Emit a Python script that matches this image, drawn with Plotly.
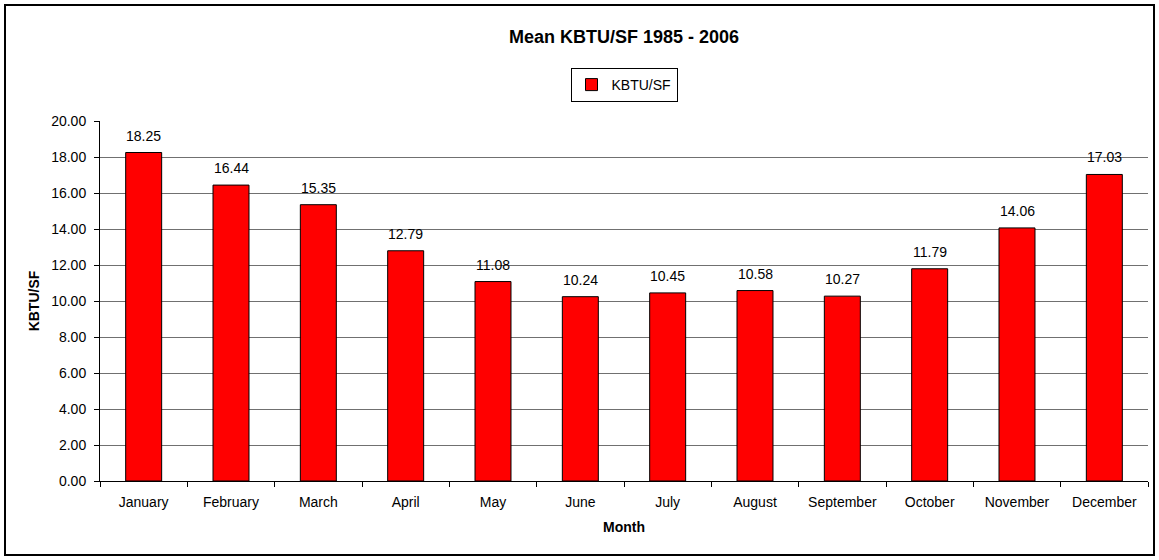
import plotly.graph_objects as go

months = ["January", "February", "March", "April", "May", "June", "July",
          "August", "September", "October", "November", "December"]
kbtu_sf = [18.25, 16.44, 15.35, 12.79, 11.08, 10.24, 10.45, 10.58, 10.27, 11.79, 14.06, 17.03]
y_ticks = [0, 2, 4, 6, 8, 10, 12, 14, 16, 18, 20]

W, H = 1159, 560
ML, MR, MT, MB = 100, 11, 121, 79
pw, ph = W - ML - MR, H - MT - MB
FONT = "Liberation Sans, Arial"

fig = go.Figure()
fig.add_trace(go.Bar(
    x=months, y=kbtu_sf, name="KBTU/SF",
    marker=dict(color="#FF0000", line=dict(color="black", width=1)),
    showlegend=True,
))

# value labels above bars
for m, v in zip(months, kbtu_sf):
    fig.add_annotation(x=m, y=v, xref="x", yref="y", text=f"{v:.2f}",
                       showarrow=False, yanchor="bottom", yshift=7,
                       font=dict(family=FONT, size=14, color="black"))

fig.update_layout(
    width=W, height=H,
    margin=dict(l=ML, r=MR, t=MT, b=MB),
    paper_bgcolor="white", plot_bgcolor="white",
    font=dict(family=FONT, size=14, color="black"),
    title=dict(text="<b>Mean KBTU/SF 1985 - 2006</b>", x=(ML + pw / 2) / W, xanchor="center",
               y=1 - 37 / H, yanchor="middle", font=dict(size=18)),
    bargap=0.588,
    showlegend=True,
    legend=dict(x=0.5, xanchor="center", y=(481 - 68) / ph, yanchor="top",
                bordercolor="black", borderwidth=1, bgcolor="white",
                font=dict(size=14), itemwidth=30),
    xaxis=dict(title=dict(text="<b>Month</b>", font=dict(size=14), standoff=13),
               showline=True, linecolor="black", linewidth=1,
               ticks="outside", tickson="boundaries", ticklen=5, tickcolor="black",
               ticklabelstandoff=8,
               showgrid=False, tickfont=dict(size=14)),
    yaxis=dict(title=dict(text="<b>KBTU/SF</b>", font=dict(size=14), standoff=8),
               range=[0, 20], tickvals=y_ticks, tickformat=".2f",
               showline=True, linecolor="black", linewidth=1,
               ticks="outside", ticklen=5, tickcolor="black",
               ticklabelstandoff=5,
               showgrid=True, gridcolor="#707070", gridwidth=1,
               zeroline=False, tickfont=dict(size=14)),
)

# outer chart border
fig.add_shape(type="rect", xref="paper", yref="paper",
              x0=(5 - ML) / pw, x1=(W - 5 - ML) / pw,
              y0=-(H - 5 - MT - ph) / ph, y1=1 + (MT - 5) / ph,
              line=dict(color="black", width=2), fillcolor="rgba(0,0,0,0)", layer="below")

fig.write_html("out.html", config={"displayModeBar": False},
               post_script="document.body.style.margin='0';")
